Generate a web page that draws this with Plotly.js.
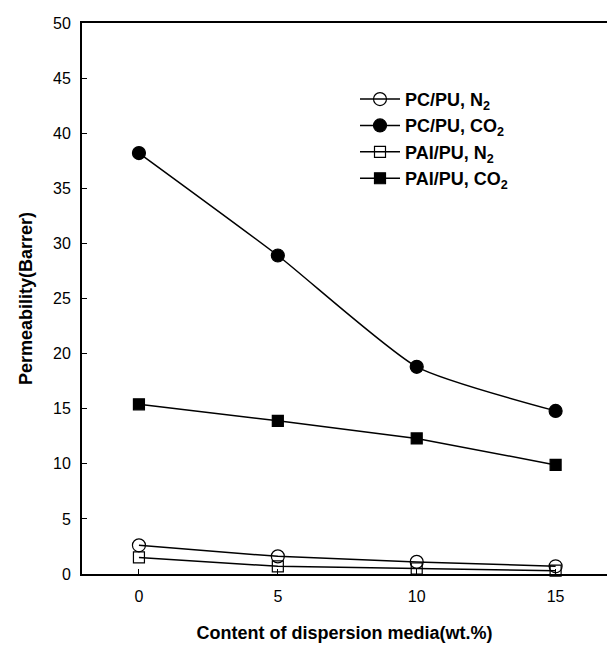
<!DOCTYPE html>
<html>
<head>
<meta charset="utf-8">
<script src="https://cdn.plot.ly/plotly-3.0.1.min.js"></script>
<style>html,body{margin:0;padding:0;background:#fff;}#chart{width:607px;height:649px;}</style>
</head>
<body>
<div id="chart"></div>
<script>
const content = [0, 5, 10, 15];
const pcpuN2 = [2.6, 1.6, 1.1, 0.7];
const pcpuCO2 = [38.2, 28.9, 18.8, 14.8];
const paipuN2 = [1.5, 0.7, 0.5, 0.3];
const paipuCO2 = [15.4, 13.9, 12.3, 9.9];
const seriesNames = ['PC/PU, N<sub>2</sub>', 'PC/PU, CO<sub>2</sub>', 'PAI/PU, N<sub>2</sub>', 'PAI/PU, CO<sub>2</sub>'];
const xTicks = [0, 5, 10, 15];
const yTicks = [0, 5, 10, 15, 20, 25, 30, 35, 40, 45, 50];

const font = 'Liberation Sans, Arial, sans-serif';
const lineStyle = {color: '#000', width: 1.5};

function trace(y, name, symbol, shape) {
  return {
    x: content, y: y, name: name, type: 'scatter', mode: 'lines+markers',
    line: Object.assign({shape: shape, smoothing: 0.55}, lineStyle),
    marker: {symbol: symbol, size: symbol.startsWith('circle') ? 13 : 11, color: '#000', line: {color: '#000', width: 1.2}},
    cliponaxis: false
  };
}

const data = [
  trace(pcpuN2, seriesNames[0], 'circle-open', 'linear'),
  trace(pcpuCO2, seriesNames[1], 'circle', 'spline'),
  trace(paipuN2, seriesNames[2], 'square-open', 'linear'),
  trace(paipuCO2, seriesNames[3], 'square', 'linear')
];

const layout = {
  width: 607, height: 649,
  margin: {l: 82, r: 0, t: 23, b: 75},
  paper_bgcolor: '#fff', plot_bgcolor: '#fff',
  font: {family: font, color: '#000', size: 16},
  showlegend: true,
  legend: {x: 0.52, y: 0.895, xanchor: 'left', yanchor: 'top', bgcolor: 'rgba(0,0,0,0)',
           font: {family: font, size: 18, weight: 'bold'}, tracegroupgap: 0, itemwidth: 40},
  xaxis: {
    range: [-2.05, 16.85], tickvals: xTicks, ticks: 'inside', ticklen: 5, tickcolor: '#000',
    showline: true, linecolor: '#000', linewidth: 2, mirror: true, showgrid: false, zeroline: false,
    tickfont: {size: 16}, ticklabelstandoff: 7,
    title: {text: 'Content of dispersion media(wt.%)', font: {size: 18, weight: 'bold'}, standoff: 22}
  },
  yaxis: {
    range: [0, 50], tickvals: yTicks, ticks: 'inside', ticklen: 5, tickcolor: '#000',
    showline: true, linecolor: '#000', linewidth: 2, mirror: false, showgrid: false, zeroline: false,
    tickfont: {size: 16}, ticklabelstandoff: 6,
    title: {text: 'Permeability(Barrer)', font: {size: 18, weight: 'bold'}, standoff: 16}
  }
};

Plotly.newPlot('chart', data, layout, {displayModeBar: false, staticPlot: true});
</script>
</body>
</html>
